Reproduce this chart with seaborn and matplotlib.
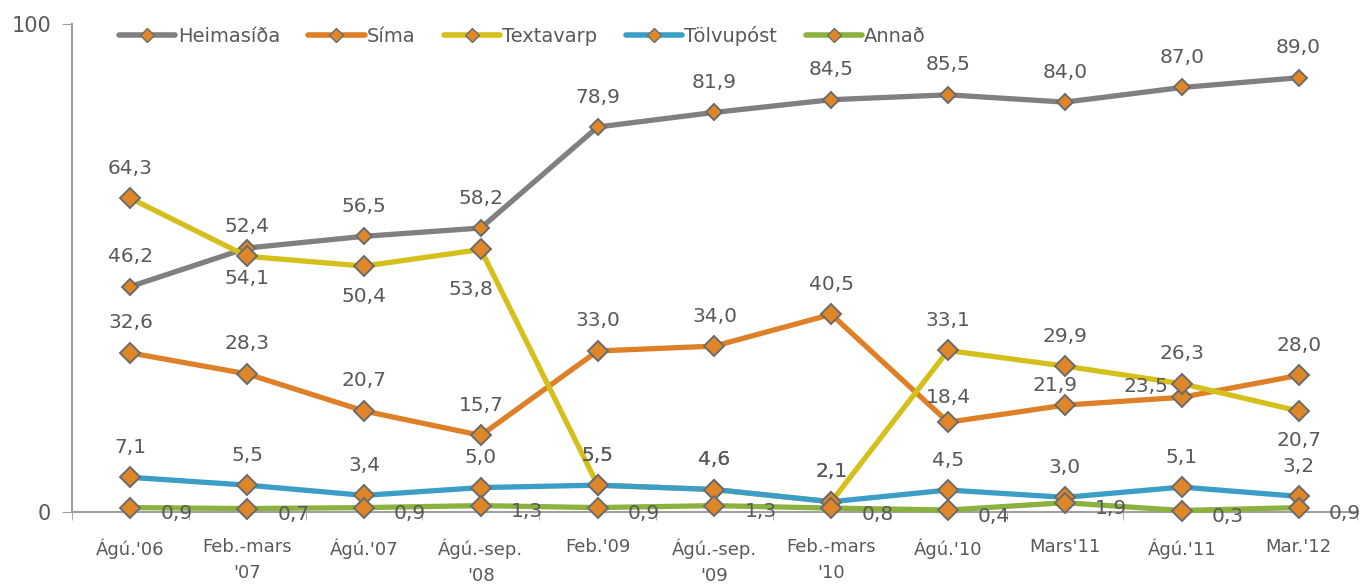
import matplotlib
matplotlib.use("Agg")
import matplotlib.pyplot as plt
from matplotlib.lines import Line2D
import seaborn as sns
import pandas as pd

periods = ["Ágú.'06", "Feb.-mars\n'07", "Ágú.'07", "Ágú.-sep.\n'08", "Feb.'09",
           "Ágú.-sep.\n'09", "Feb.-mars\n'10", "Ágú.'10", "Mars'11", "Ágú.'11", "Mar.'12"]

heimasida = [46.2, 54.1, 56.5, 58.2, 78.9, 81.9, 84.5, 85.5, 84.0, 87.0, 89.0]
sima = [32.6, 28.3, 20.7, 15.7, 33.0, 34.0, 40.5, 18.4, 21.9, 23.5, 28.0]
textavarp = [64.3, 52.4, 50.4, 53.8, 5.5, 4.6, 2.1, 33.1, 29.9, 26.3, 20.7]
tolvupost = [7.1, 5.5, 3.4, 5.0, 5.5, 4.6, 2.1, 4.5, 3.0, 5.1, 3.2]
annad = [0.9, 0.7, 0.9, 1.3, 0.9, 1.3, 0.8, 0.4, 1.9, 0.3, 0.9]

series_names = ["Heimasíða", "Síma", "Textavarp", "Tölvupóst", "Annað"]
series_values = [heimasida, sima, textavarp, tolvupost, annad]

# styling
colors = ["#808080", "#DD8027", "#D5BF1B", "#3B9EC6", "#8BB13F"]
marker_sizes = [8, 10, 10, 10, 10]
MARKER_FACE = "#DF8628"
MARKER_EDGE = "#6B6B6B"
TEXT = "#595959"

# where each value label sits relative to its point
label_pos = [
    ["a", "b", "a", "a", "a", "a", "a", "a", "a", "a", "a"],
    ["a", "a", "a", "a", "a", "a", "a", "a2", "a3", "l", "a"],
    ["a", "a", "b", "bl", "a", "a", "a", "a", "a", "a", "b"],
    ["a", "a", "a", "a", "a", "a", "a", "a", "a", "a", "a"],
    ["r", "r", "r", "r", "r", "r", "r", "r", "r", "r", "r"],
]
offsets = {"a": (0, 30), "a2": (0, 25), "a3": (-10, 20), "b": (0, -30),
           "bl": (-10, -40), "r": (46, -6), "l": (-36, 11)}

rows = []
for name, vals in zip(series_names, series_values):
    for i, v in enumerate(vals):
        rows.append({"pos": i, "value": v, "series": name})
df = pd.DataFrame(rows)

sns.set_style("white")
plt.rcParams["font.family"] = ["DejaVu Sans"]

fig = plt.figure(figsize=(13.63, 5.87), dpi=100)
ax = fig.add_axes([0.0528, 0.1278, 0.9428, 0.8312])

for k, name in enumerate(series_names):
    sub = df[df["series"] == name]
    sns.lineplot(data=sub, x="pos", y="value", ax=ax, color=colors[k], linewidth=3.8,
                 marker="D", markersize=marker_sizes[k], markerfacecolor=MARKER_FACE,
                 markeredgecolor=MARKER_EDGE, markeredgewidth=1.4, clip_on=False,
                 zorder=3 + k, legend=False)

for k, vals in enumerate(series_values):
    for i, v in enumerate(vals):
        dx, dy = offsets[label_pos[k][i]]
        ax.annotate(f"{v:.1f}".replace(".", ","), (i, v), xytext=(dx, dy),
                    textcoords="offset pixels", ha="center", va="center",
                    fontsize=14.5, color=TEXT, zorder=10, annotation_clip=False)

ax.set_xlim(-0.5, 10.5)
ax.set_ylim(0, 100)
ax.set_xticks(range(len(periods)))
ax.set_xticklabels(periods, fontsize=13, color=TEXT, linespacing=1.55, va="top")
ax.set_xticks([i - 0.5 for i in range(len(periods) + 1)], minor=True)
ax.tick_params(axis="x", which="major", length=0, pad=19)
ax.tick_params(axis="x", which="minor", length=6, color="#A0A0A0", direction="out", bottom=True)
ax.set_yticks([0, 100])
ax.set_yticklabels(["0", "100"], fontsize=15, color=TEXT)
ax.tick_params(axis="y", length=7, color="#A0A0A0", pad=8, left=True)
ax.set_xlabel("")
ax.set_ylabel("")

for side in ["top", "right"]:
    ax.spines[side].set_visible(False)
for side in ["left", "bottom"]:
    ax.spines[side].set_color("#A0A0A0")
    ax.spines[side].set_linewidth(1.5)

handles = [Line2D([0], [0], color=c, linewidth=4, marker="D", markersize=7,
                  markerfacecolor=MARKER_FACE, markeredgecolor=MARKER_EDGE)
           for c in colors]
leg = ax.legend(handles, series_names, ncol=5, frameon=False, loc="center left",
                bbox_to_anchor=(0.0366, 0.975), borderaxespad=0, borderpad=0,
                fontsize=14, handlelength=2.9, handletextpad=0.12,
                columnspacing=1.45, labelcolor=TEXT)

fig.savefig("out.png", dpi=100)
